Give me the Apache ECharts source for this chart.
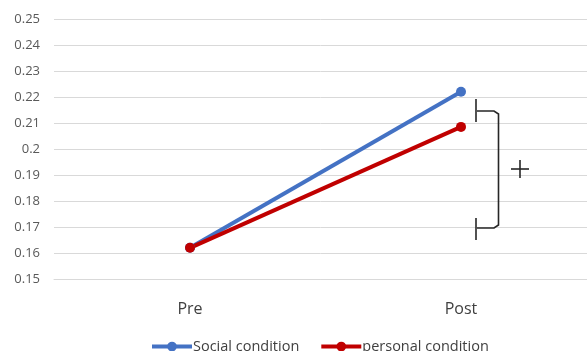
<!DOCTYPE html>
<html><head><meta charset="utf-8">
<script src="https://cdn.jsdelivr.net/npm/echarts@6/dist/echarts.min.js"></script>
<style>html,body{margin:0;padding:0;background:#fff}#c{width:587px;height:351px}</style>
</head><body><div id="c"></div>
<script>
const categories = ['Pre', 'Post'];
const socialValues = [0.162, 0.222];
const personalValues = [0.162, 0.2085];
const yTicks = [0.15, 0.25, 0.01];
const FONT = '"Open Sans", "Liberation Sans", sans-serif';

const chart = echarts.init(document.getElementById('c'), null, {renderer: 'canvas'});
chart.setOption({
  animation: false,
  backgroundColor: '#fff',
  grid: [
    {left: 54, top: 19, right: 0, bottom: 72, containLabel: false},
    {left: 190, top: 19, right: 126, bottom: 72, containLabel: false}
  ],
  xAxis: [
    {type: 'category', gridIndex: 0, data: categories, show: true,
      axisLine: {show: true, lineStyle: {color: '#d9d9d9'}}, axisTick: {show: false}, axisLabel: {show: false}},
    {type: 'category', gridIndex: 1, data: categories, boundaryGap: false,
      axisLine: {show: false}, axisTick: {show: false},
      axisLabel: {color: '#404040', fontSize: 16, fontFamily: FONT, margin: 22}}
  ],
  yAxis: [
    {type: 'value', gridIndex: 0, min: yTicks[0], max: yTicks[1], interval: yTicks[2],
      axisLine: {show: false}, axisTick: {show: false},
      splitLine: {lineStyle: {color: '#d9d9d9', width: 1}},
      axisLabel: {color: '#595959', fontSize: 13, fontFamily: FONT, margin: 14,
        formatter: v => String(+v.toFixed(2))}},
    {type: 'value', gridIndex: 1, min: yTicks[0], max: yTicks[1], interval: yTicks[2], show: false,
      splitLine: {show: false}}
  ],
  legend: {
    bottom: -3, left: 150, padding: 0, itemWidth: 40, itemHeight: 12, itemGap: 20,
    lineStyle: {width: 4},
    textStyle: {color: '#404040', fontSize: 14.5, fontFamily: FONT, padding: [0, 0, 0, -4]},
    data: ['Social condition', 'personal condition']
  },
  series: [
    {name: 'Social condition', type: 'line', xAxisIndex: 1, yAxisIndex: 1, clip: false,
      data: socialValues, symbol: 'circle', symbolSize: 10,
      color: '#4472C4', lineStyle: {width: 4, color: '#4472C4'}, itemStyle: {color: '#4472C4'}},
    {name: 'personal condition', type: 'line', xAxisIndex: 1, yAxisIndex: 1, clip: false,
      data: personalValues, symbol: 'circle', symbolSize: 10,
      color: '#C00000', lineStyle: {width: 4, color: '#C00000'}, itemStyle: {color: '#C00000'}}
  ]
});

// bracket annotation (significance marker)
const st = {stroke: '#262626', lineWidth: 1.6, fill: null};
chart.setOption({
  graphic: [
    {type: 'line', shape: {x1: 476, y1: 99, x2: 476, y2: 122}, style: st},
    {type: 'line', shape: {x1: 476, y1: 218, x2: 476, y2: 240}, style: st},
    {type: 'polyline', shape: {points: [[477, 111], [494, 111], [498.5, 114], [498.5, 225], [494, 228], [477, 228]]}, style: st},
    {type: 'line', shape: {x1: 511, y1: 169, x2: 529, y2: 169}, style: st},
    {type: 'line', shape: {x1: 520, y1: 160, x2: 520, y2: 178}, style: st}
  ]
});
</script></body></html>
